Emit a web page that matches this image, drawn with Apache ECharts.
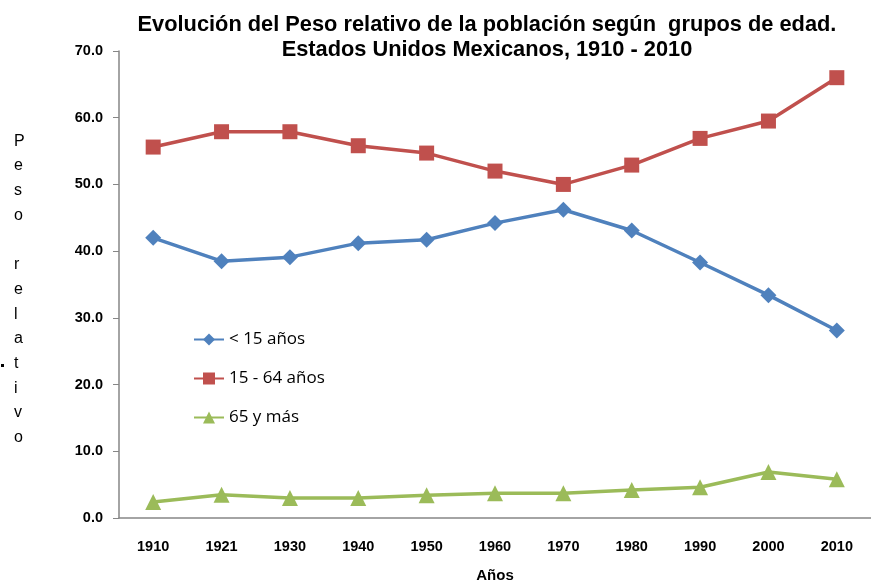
<!DOCTYPE html>
<html>
<head>
<meta charset="utf-8">
<script src="https://cdn.jsdelivr.net/npm/echarts@6/dist/echarts.min.js"></script>
<style>
  html, body { margin: 0; padding: 0; background: #fff; }
  #chart { width: 871px; height: 588px; }
</style>
</head>
<body>
<div id="chart"></div>
<script>
const chart = echarts.init(document.getElementById('chart'))

// Data
const years = ['1910', '1921', '1930', '1940', '1950', '1960', '1970', '1980', '1990', '2000', '2010']
const menores15 = [42.0, 38.5, 39.1, 41.2, 41.7, 44.2, 46.2, 43.1, 38.3, 33.4, 28.1]
const de15a64 = [55.6, 57.9, 57.9, 55.8, 54.7, 52.0, 50.0, 52.9, 56.9, 59.5, 66.0]
const de65ymas = [2.4, 3.5, 3.0, 3.0, 3.4, 3.7, 3.7, 4.2, 4.6, 6.9, 5.8]
const yTicks = [0, 10, 20, 30, 40, 50, 60, 70]

const axisColor = '#868686'
const boldFont = 'Liberation Sans'

const option = {
  animation: false,
  title: {
    text: 'Evolución del Peso relativo de la población según  grupos de edad.\nEstados Unidos Mexicanos, 1910 - 2010',
    left: 482,
    textAlign: 'center',
    top: 7,
    textStyle: {
      fontFamily: boldFont,
      fontWeight: 'bold',
      fontSize: 21.8,
      lineHeight: 25,
      color: '#000',
    },
  },
  grid: { left: 119, right: 0, top: 51, bottom: 66 },
  legend: {
    orient: 'vertical',
    left: 188,
    top: 326,
    itemGap: 22,
    itemWidth: 30,
    itemHeight: 15,
    textStyle: { fontFamily: 'Open Sans', fontSize: 17, color: '#000' },
    data: ['< 15 años', '15 - 64 años', '65 y más'],
  },
  xAxis: {
    type: 'category',
    data: years,
    boundaryGap: true,
    name: 'Años',
    nameLocation: 'middle',
    nameGap: 50,
    nameTextStyle: { fontFamily: boldFont, fontWeight: 'bold', fontSize: 15, color: '#000' },
    axisLine: { lineStyle: { color: axisColor, width: 1.5 } },
    axisTick: { length: 6, lineStyle: { color: axisColor } },
    axisLabel: { margin: 21, fontFamily: boldFont, fontWeight: 'bold', fontSize: 14.5, color: '#000' },
  },
  yAxis: {
    type: 'value',
    min: yTicks[0],
    max: yTicks[yTicks.length - 1],
    interval: 10,
    splitLine: { show: false },
    axisLine: { show: true, lineStyle: { color: axisColor, width: 1.5 } },
    axisTick: { show: true, length: 6, lineStyle: { color: axisColor } },
    axisLabel: {
      margin: 16,
      fontFamily: boldFont,
      fontWeight: 'bold',
      fontSize: 14.5,
      color: '#000',
      formatter: (v) => v.toFixed(1),
    },
  },
  graphic: [
    {
      type: 'text',
      left: 14,
      top: 129,
      style: {
        text: ['P', 'e', 's', 'o', ' ', 'r', 'e', 'l', 'a', 't', 'i', 'v', 'o'].join('\n'),
        fontFamily: 'Liberation Sans',
        fontSize: 16,
        lineHeight: 24.7,
        fill: '#000',
        align: 'center',
        x: 6,
      },
    },
    { type: 'rect', shape: { x: 1, y: 364, width: 3, height: 3 }, style: { fill: '#000' } },
  ],
  series: [
    {
      name: '< 15 años',
      type: 'line',
      data: menores15,
      symbol: 'diamond',
      symbolSize: 16,
      lineStyle: { color: '#4F81BD', width: 3.5 },
      itemStyle: { color: '#4F81BD' },
    },
    {
      name: '15 - 64 años',
      type: 'line',
      data: de15a64,
      symbol: 'rect',
      symbolSize: 15,
      lineStyle: { color: '#C0504D', width: 3.5 },
      itemStyle: { color: '#C0504D' },
    },
    {
      name: '65 y más',
      type: 'line',
      data: de65ymas,
      symbol: 'triangle',
      symbolSize: 16,
      lineStyle: { color: '#9BBB59', width: 3.5 },
      itemStyle: { color: '#9BBB59' },
    },
  ],
}

chart.setOption(option)
</script>
</body>
</html>
